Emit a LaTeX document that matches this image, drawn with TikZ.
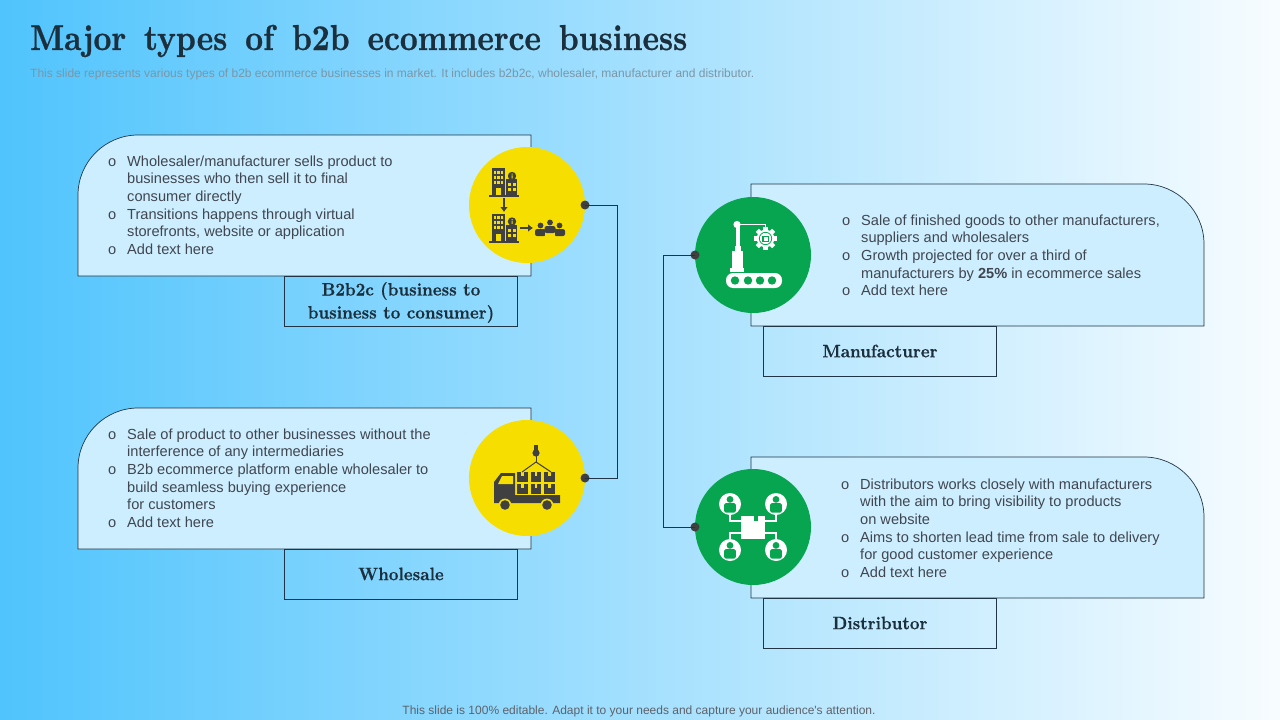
\documentclass[tikz,border=0pt]{standalone}
\usepackage{fontspec}
\newfontfamily\bodyfont{Liberation Sans}
\newfontfamily\headfont[Extension=.otf,FakeStretch=0.865,WordSpace=1.5,FakeBold=0.7]{lmroman10-bold}
\newfontfamily\tagfont[Extension=.otf,FakeStretch=0.93,FakeBold=0.35]{lmroman10-bold}
\usetikzlibrary{arrows.meta,positioning,calc}
\definecolor{bgleft}{HTML}{50C4FD}
\definecolor{bgmid}{HTML}{93DAFC}
\definecolor{bgright}{HTML}{F7FCFF}
\definecolor{fpanel}{HTML}{CDEEFE}
\definecolor{fedge}{HTML}{1F3545}
\definecolor{fink}{HTML}{1C2F3D}
\definecolor{ftext}{HTML}{404650}
\definecolor{fgrey}{HTML}{7C96A6}
\definecolor{fyellow}{HTML}{F6DF00}
\definecolor{fgreen}{HTML}{07A550}
\definecolor{ficon}{HTML}{404040}
\tikzset{
  panel/.style    = {draw=fedge, line width=0.7pt, fill=fpanel},
  tagbox/.style   = {draw=fedge, line width=0.7pt, minimum width=233pt,
                     minimum height=50pt, inner sep=0pt, align=center,
                     text=fink, font=\tagfont\fontsize{18}{23}\selectfont},
  bullets/.style  = {anchor=north west, inner sep=0pt, align=left, text=ftext,
                     font=\bodyfont\fontsize{14.6}{17.6}\selectfont},
  badge/.style    = {circle, inner sep=0pt, minimum size=116pt},
  pickoff/.style  = {fill=ficon, circle, inner sep=0pt, minimum size=9pt},
  wire/.style     = {draw=fedge, line width=0.8pt},
}
\newcommand{\itm}{\leavevmode\llap{o\hspace{11pt}}}
% building pair with info mark
\newcommand{\towericon}[2]{%
  \begin{scope}[shift={(#1,#2)}]
    \fill[ficon] (0,0) rectangle (13,27);
    \fill[ficon] (14,11) rectangle (25,27);
    \fill[ficon] (-3,27) rectangle (27,29);
    \fill[ficon] (20,8) circle (4.2);
    \fill[fyellow] (19.5,5.6) rectangle (20.5,6.6) (19.5,7.4) rectangle (20.5,10.4);
    \foreach \u in {2,5.2,8.6} \foreach \v in {2.5,7.5,12.5}
      \fill[fyellow] (\u,\v) rectangle +(2.4,3);
    \foreach \u in {16,20.5} \foreach \v in {15,20}
      \fill[fyellow] (\u,\v) rectangle +(3,3);
    \fill[fyellow] (4,20) rectangle (9,27);
  \end{scope}}
% small seated figure
\newcommand{\crowdman}[2]{%
  \fill[ficon] (#1,#2) circle (2.9);
  \fill[ficon, rounded corners=2pt] ({#1-5.5},{#2+3.6}) rectangle ({#1+5.5},{#2+10.5});}
% round portrait for the distributor badge
\newcommand{\portrait}[2]{%
  \fill[white] (#1,#2) circle (11);
  \fill[fgreen] (#1,{#2-4.6}) circle (3.4);
  \fill[fgreen, rounded corners=1.5pt] ({#1-5.8},{#2-0.8}) rectangle ({#1+5.8},{#2+8.6});}
\begin{document}
\begin{tikzpicture}[x=1pt, y=-1pt]
\useasboundingbox (0,0) rectangle (1280,720);
% ---- background ----
\fill[left color=bgleft, middle color=bgmid, right color=bgright] (0,0) rectangle (1280,720);
% ---- heading ----
\node[anchor=base west, inner sep=0pt, text=fink, font=\headfont\fontsize{36}{40}\selectfont]
     (title) at (30,50) {Major types of b2b ecommerce business};
\node[anchor=base west, inner sep=0pt, text=fgrey, font=\bodyfont\fontsize{12}{14}\selectfont]
     (subtitle) at (30,77) {This slide represents various types of b2b ecommerce businesses in market. It includes b2b2c, wholesaler, manufacturer and distributor.};
\node[anchor=base, inner sep=0pt, text=ftext!85, font=\bodyfont\fontsize{12}{14}\selectfont]
     (footer) at (639,714) {This slide is 100\% editable. Adapt it to your needs and capture your audience's attention.};
% ---- panels ----
\draw[panel] (78,276) -- (78,195) .. controls (78,162) and (105,135) .. (138,135)
             -- (531,135) -- (531,276) -- cycle;
\draw[panel] (78,549) -- (78,468) .. controls (78,435) and (105,408) .. (138,408)
             -- (531,408) -- (531,549) -- cycle;
\draw[panel] (751,326) -- (751,184) -- (1144,184) .. controls (1177,184) and (1204,211)
             .. (1204,244) -- (1204,326) -- cycle;
\draw[panel] (751,598) -- (751,457) -- (1144,457) .. controls (1177,457) and (1204,484)
             .. (1204,517) -- (1204,598) -- cycle;
% ---- tags ----
\node[tagbox] (tagb) at (401,301) {\rule{0pt}{16.5pt}B2b2c (business to\\business to consumer)};
\node[tagbox] (tagw) at (401,574) {Wholesale};
\node[tagbox] (tagm) at (880,351) {Manufacturer};
\node[tagbox] (tagd) at (880,623) {Distributor};
% ---- panel texts ----
\node[bullets] (textb) at (127,155.5) {\itm Wholesaler/manufacturer sells product to\\businesses who then sell it to final\\consumer directly\\\itm Transitions happens through virtual\\storefronts, website or application\\\itm Add text here};
\node[bullets] (textw) at (127,428.5) {\itm Sale of product to other businesses without the\\interference of any intermediaries\\\itm B2b ecommerce platform enable wholesaler to\\build seamless buying experience\\for customers\\\itm Add text here};
\node[bullets] (textm) at (861,214.5) {\itm Sale of finished goods to other manufacturers,\\suppliers and wholesalers\\\itm Growth projected for over a third of\\manufacturers by \textbf{25\%} in ecommerce sales\\\itm Add text here};
\node[bullets] (textd) at (860,478.5) {\itm Distributors works closely with manufacturers\\with the aim to bring visibility to products\\on website\\\itm Aims to shorten lead time from sale to delivery\\for good customer experience\\\itm Add text here};
% ---- badges ----
\node[badge, fill=fyellow] (badgeb) at (527,205) {};
\node[badge, fill=fyellow] (badgew) at (527,478) {};
\node[badge, fill=fgreen] (badgem) at (753,255) {};
\node[badge, fill=fgreen] (badged) at (753,527) {};
% ---- connectors ----
\node[pickoff] (dotb) at (585,205) {};
\node[pickoff] (dotw) at (585,478) {};
\node[pickoff] (dotm) at (695,255) {};
\node[pickoff] (dotd) at (695,527) {};
\coordinate (railb) at (617,205);
\coordinate (railw) at (617,478);
\coordinate (railm) at (663,255);
\coordinate (raild) at (663,527);
\draw[wire] (dotb.center) -- (railb) -- (railw) -- (dotw.center);
\draw[wire] (dotm.center) -- (railm) -- (raild) -- (dotd.center);
% ---- icon: b2b2c ----
\towericon{492}{168}
\towericon{492}{213.5}
\draw[ficon, line width=2.5pt, -{Latex[length=5pt,width=8pt]}] (504,198) -- (504,212);
\draw[ficon, line width=2.5pt, -{Latex[length=5pt,width=8pt]}] (520,228) -- (533,228);
\crowdman{540.5}{225.5}
\crowdman{559.5}{225.5}
\fill[fyellow] (545,226) rectangle (555,237);
\crowdman{550}{222.5}
% ---- icon: truck ----
\fill[ficon] (494,503) -- (494,482) -- (501,473) -- (515,473) -- (515,495) -- (560,495)
             -- (560,503) -- cycle;
\fill[fyellow] (502,476) -- (513,476) -- (513,484) -- (498,484) -- cycle;
\foreach \u in {517,530.5,544} \foreach \v in {472,484}{
  \fill[ficon] (\u,\v) rectangle +(10.5,9.5);
  \fill[fyellow] ({\u+4},\v) rectangle +(2.5,4);
}
\foreach \u in {505,547}{
  \fill[fyellow] (\u,505) circle (6.4);
  \fill[ficon] (\u,505) circle (4.8);
}
\draw[ficon, line width=1pt] (522,472) -- (536,462) -- (551,472);
\draw[ficon, line width=1pt] (536,462) -- (536,456);
\fill[ficon] (534,445) rectangle (538,451);
\fill[ficon] (536,453) circle (3.6);
% ---- icon: robot arm ----
\fill[white, rounded corners=7pt] (726,273) rectangle (782,288);
\foreach \u in {735,748,760,772}
  \fill[fgreen] (\u,280.5) circle (4.2);
\fill[white] (730,268) rectangle (744,272);
\fill[white] (732,251) rectangle (743,268);
\fill[white] (734.5,246) rectangle (740.5,252);
\fill[white] (735.5,225) rectangle (739.5,247);
\fill[white] (737,224.5) circle (3.6);
\draw[white, line width=1.4pt] (737,224.5) -- (765.5,224.5) -- (765.5,230);
\foreach \a in {0,45,...,315}
  \fill[white, rotate around={\a:(765.5,238.5)}] (763.3,227) rectangle (767.7,232.5);
\fill[white] (765.5,238.5) circle (8.8);
\draw[fgreen, line width=0.8pt] (765.5,238.5) circle (6.2);
\fill[fgreen] (762,235.5) rectangle (769,242);
\fill[white] (763.5,237) rectangle (767.5,240.5);
% ---- icon: distributor ----
\draw[white, line width=2pt] (730,510) -- (730,521) -- (745,521);
\draw[white, line width=2pt] (776,510) -- (776,521) -- (761,521);
\draw[white, line width=2pt] (730,545) -- (730,533) -- (745,533);
\draw[white, line width=2pt] (776,545) -- (776,533) -- (761,533);
\fill[white] (741,516) rectangle (765,539);
\fill[fgreen] (754,516) -- (758,516) -- (758,520.5) -- (754,520.5) -- cycle;
\portrait{730}{504}
\portrait{776}{504}
\portrait{730}{550}
\portrait{776}{550}
\end{tikzpicture}
\end{document}
